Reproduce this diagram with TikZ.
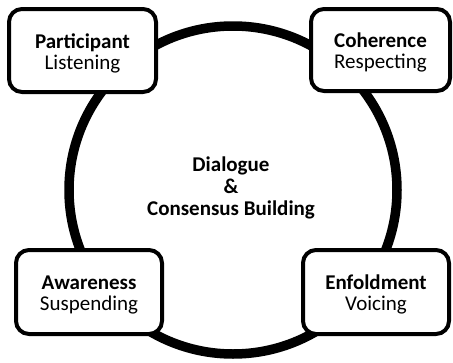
\documentclass[tikz,border=0pt]{standalone}
\usepackage{fontspec}
\setmainfont{Carlito}
\begin{document}
\begin{tikzpicture}[x=1pt,y=1pt,
  ring/.style={circle, draw=black, line width=9.5pt, inner sep=0pt, minimum size=328pt},
  stage/.style={draw=black, line width=4pt, fill=white, rounded corners=13pt, inner sep=0pt},
  caption/.style={align=center, inner sep=0pt, font=\fontsize{21}{21}\selectfont},
  hub/.style={align=center, inner sep=0pt, font=\bfseries\fontsize{21}{22}\selectfont}]
\useasboundingbox (0,0) rectangle (453,-362);
% the cycle that links the four stages
\node[ring] (cycle) at (233,-190) {};
% the four stages, drawn over the cycle
\node[stage, minimum width=147pt, minimum height=83pt] (participant) at (82.5,-50.5) {};
\node[stage, minimum width=139pt, minimum height=82pt] (coherence) at (380.5,-50) {};
\node[stage, minimum width=146pt, minimum height=84pt] (awareness) at (89,-292) {};
\node[stage, minimum width=146pt, minimum height=84pt] (enfoldment) at (376,-292) {};
% their captions
\node[caption] (participant-text) at ([yshift=-2.5pt]participant.center) {\textbf{Participant}\\Listening};
\node[caption] (coherence-text) at ([yshift=-2.5pt]coherence.center) {\textbf{Coherence}\\Respecting};
\node[caption] (awareness-text) at ([yshift=-2.5pt]awareness.center) {\textbf{Awareness}\\Suspending};
\node[caption] (enfoldment-text) at ([yshift=-2.5pt]enfoldment.center) {\textbf{Enfoldment}\\Voicing};
% centre label
\node[hub] (dialogue) at (231,-188) {Dialogue\\\&\\Consensus Building};
\end{tikzpicture}
\end{document}
